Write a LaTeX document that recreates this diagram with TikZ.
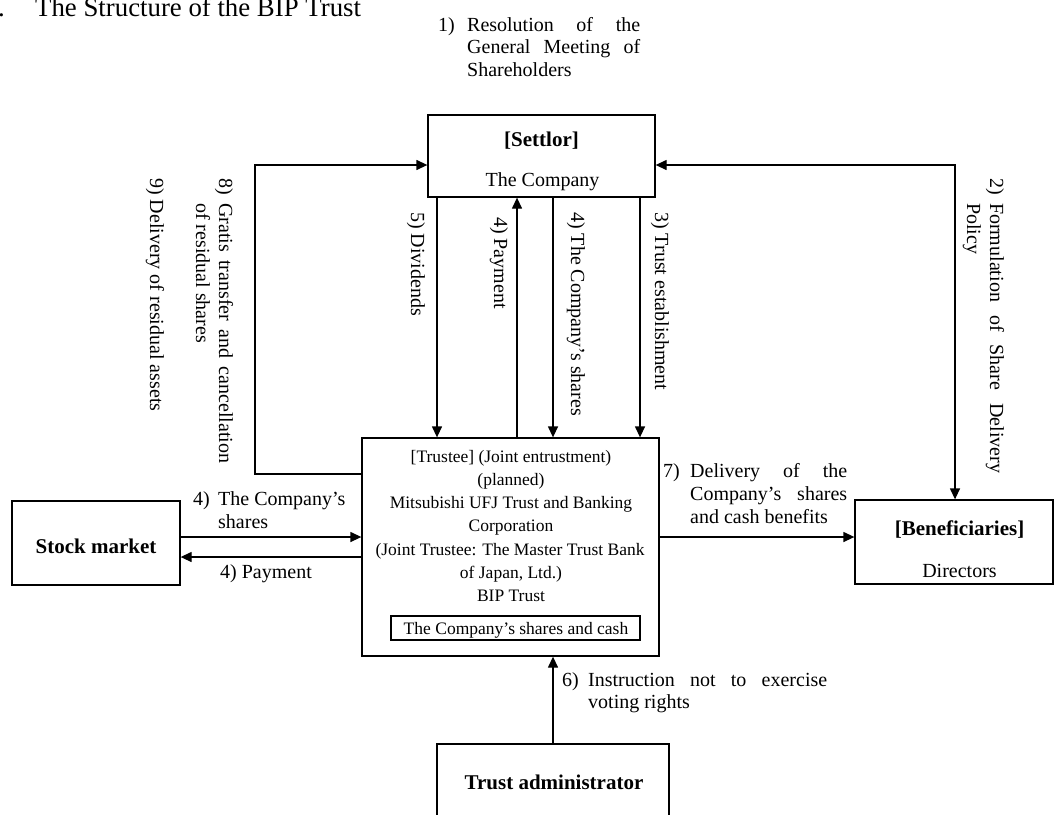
\documentclass[tikz,border=0pt]{standalone}
\usepackage{fontspec}
\setmainfont{Liberation Serif}
\usetikzlibrary{arrows.meta}
\newcommand{\sline}[2]{\makebox[#1][s]{#2}}
\begin{document}
\begin{tikzpicture}[x=1pt,y=-1pt,
  box/.style={draw, line width=1.3pt, inner sep=0pt},
  lbl/.style={inner sep=0pt, font=\fontsize{20}{23}\selectfont},
  tlbl/.style={inner sep=0pt, font=\fontsize{17.5}{21}\selectfont},
  bld/.style={inner sep=0pt, font=\fontsize{21}{25}\selectfont\bfseries},
  vlbl/.style={lbl, anchor=base west, rotate=-90},
  arr/.style={line width=1.3pt, -{Triangle[length=11pt,width=10pt]}},
  arrb/.style={line width=1.3pt, {Triangle[length=11pt,width=10pt]}-{Triangle[length=11pt,width=10pt]}}
]
\useasboundingbox (0,0) rectangle (1054,814);

% title
\node[anchor=base west, inner sep=0pt, font=\fontsize{26.8}{30}\selectfont] (title) at (35,16) {The Structure of the BIP Trust};
\node[anchor=base east, inner sep=0pt, font=\fontsize{26.8}{30}\selectfont] (titlenum) at (5,16) {2.};

% label 1
\node[lbl, anchor=base west] (l1a) at (438,31) {\makebox[29pt][l]{1)}\sline{173pt}{Resolution of the}};
\node[lbl, anchor=base west] (l1b) at (467,53.5) {\sline{173pt}{General Meeting of}};
\node[lbl, anchor=base west] (l1c) at (467,76) {Shareholders};

% boxes
\node[box, minimum width=227pt, minimum height=82pt] (settlor) at (541.5,156) {};
\node[bld, anchor=base] (settlorT) at (541.5,146) {[Settlor]};
\node[lbl, anchor=base] (settlorC) at (542.5,186) {The Company};

\node[box, minimum width=297pt, minimum height=218pt] (trustee) at (510.5,547) {};
\node[tlbl, anchor=base] (t1) at (511,462) {[Trustee] (Joint entrustment)};
\node[tlbl, anchor=base] (t2) at (511,485.3) {(planned)};
\node[tlbl, anchor=base] (t3) at (511,508.6) {Mitsubishi UFJ Trust and Banking};
\node[tlbl, anchor=base] (t4) at (511,531.9) {Corporation};
\node[tlbl, anchor=base] (t5) at (510,555.2) {(Joint Trustee: The Master Trust Bank};
\node[tlbl, anchor=base] (t6) at (511,578.5) {of Japan, Ltd.)};
\node[tlbl, anchor=base] (t7) at (511,601.8) {BIP Trust};
\node[box, line width=1.1pt, minimum width=249pt, minimum height=24pt] (inner) at (515.5,628) {};
\node[tlbl, anchor=base] (innerT) at (516,634) {The Company's shares and cash};

\node[box, minimum width=168pt, minimum height=84pt] (stock) at (96,543) {};
\node[bld, anchor=base] (stockT) at (96,553) {Stock market};

\node[box, minimum width=198pt, minimum height=84pt] (benef) at (954,542) {};
\node[bld, anchor=base] (benefT) at (959.5,535) {[Beneficiaries]};
\node[lbl, anchor=base] (benefD) at (959.5,577) {Directors};

\node[box, minimum width=232pt, minimum height=86pt] (admin) at (553,787) {};
\node[bld, anchor=base] (adminT) at (554,789) {Trust administrator};

% helper coordinates
\coordinate (x5) at (437,0);
\coordinate (x4p) at (517,0);
\coordinate (x4s) at (553,0);
\coordinate (x3) at (640,0);
\coordinate (yA) at (0,537);
\coordinate (yB) at (0,557);
\coordinate (y8) at (0,474);
\coordinate (c8a) at (255,474);
\coordinate (c8b) at (255,165);
\coordinate (c2) at (955,165);

% connectors
\draw[arr] (settlor.south -| x5) -- (trustee.north -| x5);
\draw[arr] (trustee.north -| x4p) -- (settlor.south -| x4p);
\draw[arr] (settlor.south -| x4s) -- (trustee.north -| x4s);
\draw[arr] (settlor.south -| x3) -- (trustee.north -| x3);
\draw[arr] (trustee.west |- y8) -- (c8a) -- (c8b) -- (settlor.west |- c8b);
\draw[arrb] (settlor.east |- c2) -- (c2) -- (benef.north -| c2);
\draw[arr] (stock.east |- yA) -- (trustee.west |- yA);
\draw[arr] (trustee.west |- yB) -- (stock.east |- yB);
\draw[arr] (trustee.east |- yA) -- (benef.west |- yA);
\draw[arr] (admin.north -| x4s) -- (trustee.south -| x4s);

% vertical labels
\node[vlbl] (l5) at (411,212) {5) Dividends};
\node[vlbl] (l4p) at (494,217) {4) Payment};
\node[vlbl] (l4s) at (571,212) {4) The Company's shares};
\node[vlbl] (l3) at (655,212) {3) Trust establishment};
\node[vlbl] (l8a) at (219,178) {\makebox[25pt][l]{8)}\sline{260pt}{Gratis transfer and cancellation}};
\node[vlbl] (l8b) at (196,203) {of residual shares};
\node[vlbl] (l9) at (150,178) {9) Delivery of residual assets};
\node[vlbl] (l2a) at (990,178) {\makebox[25pt][l]{2)}\sline{270pt}{Formulation of Share Delivery}};
\node[vlbl] (l2b) at (967,203) {Policy};

% horizontal labels
\node[lbl, anchor=base west] (l4a1) at (193,505) {\makebox[25pt][l]{4)}The Company's};
\node[lbl, anchor=base west] (l4a2) at (218,528) {shares};
\node[lbl, anchor=base west] (l4pay) at (220,578) {4) Payment};
\node[lbl, anchor=base west] (l7a) at (663,477) {\makebox[27pt][l]{7)}\sline{157pt}{Delivery of the}};
\node[lbl, anchor=base west] (l7b) at (690,500) {\sline{157pt}{Company's shares}};
\node[lbl, anchor=base west] (l7c) at (690,523) {and cash benefits};
\node[lbl, anchor=base west] (l6a) at (562,686) {\makebox[26pt][l]{6)}\sline{239pt}{Instruction not to exercise}};
\node[lbl, anchor=base west] (l6b) at (588,708) {voting rights};
\end{tikzpicture}
\end{document}
